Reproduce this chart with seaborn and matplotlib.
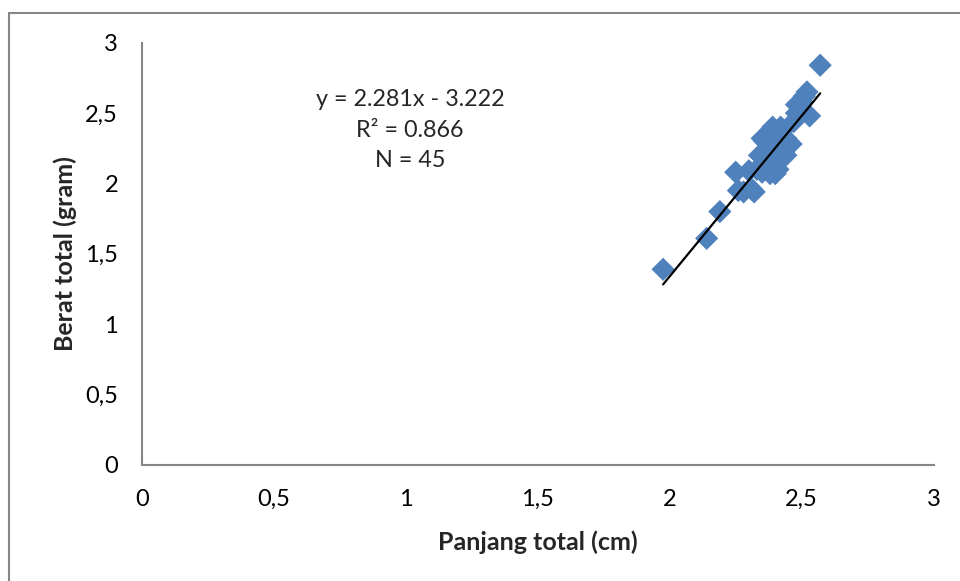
import matplotlib
matplotlib.use("Agg")
import matplotlib.pyplot as plt
from matplotlib.lines import Line2D
import seaborn as sns
import numpy as np
import pandas as pd

# Total length (cm) and total weight (gram) of the 45 sampled individuals
panjang_total = [1.975, 2.14, 2.19, 2.25, 2.26, 2.28, 2.30, 2.31, 2.32, 2.33,
                 2.34, 2.35, 2.35, 2.36, 2.36, 2.37, 2.37, 2.38, 2.38, 2.39,
                 2.39, 2.39, 2.40, 2.40, 2.40, 2.41, 2.41, 2.42, 2.42, 2.42,
                 2.43, 2.43, 2.44, 2.44, 2.45, 2.46, 2.47, 2.48, 2.48, 2.49,
                 2.50, 2.51, 2.52, 2.53, 2.57]
berat_total = [1.39, 1.61, 1.80, 2.08, 1.95, 1.94, 2.09, 1.96, 1.94, 2.10,
               2.20, 2.32, 2.08, 2.30, 2.15, 2.24, 2.10, 2.07, 2.20, 2.40,
               2.28, 2.12, 2.07, 2.35, 2.18, 2.25, 2.10, 2.40, 2.20, 2.30,
               2.38, 2.22, 2.32, 2.20, 2.29, 2.28, 2.44, 2.50, 2.56, 2.55,
               2.58, 2.62, 2.65, 2.48, 2.84]

# Linear trend line reported on the chart
slope = 2.281
intercept = -3.222
r_squared = 0.866
n_sampel = 45

x_ticks = [0, 0.5, 1, 1.5, 2, 2.5, 3]
y_ticks = [0, 0.5, 1, 1.5, 2, 2.5, 3]
tick_labels = ["0", "0,5", "1", "1,5", "2", "2,5", "3"]

df = pd.DataFrame({"Panjang total (cm)": panjang_total,
                   "Berat total (gram)": berat_total})

sns.set_theme(style="white")
plt.rcParams["font.family"] = ["Lato", "DejaVu Sans"]

fig = plt.figure(figsize=(9.6, 5.81), dpi=100)
ax = fig.add_axes([0.1476, 0.1997, 0.825, 0.7268])

blue = "#4F81BD"
sns.scatterplot(data=df, x="Panjang total (cm)", y="Berat total (gram)",
                marker="D", s=140, color=blue, edgecolor="none",
                linewidth=0, ax=ax, zorder=3)

# trend line across the range of the observed lengths
xs = np.array([min(panjang_total), max(panjang_total)])
ax.plot(xs, slope * xs + intercept, color="black", lw=1.6, zorder=4)

ax.set_xlim(0, 3)
ax.set_ylim(0, 3)
ax.set_xticks(x_ticks)
ax.set_yticks(y_ticks)
ax.set_xticklabels(tick_labels)
ax.set_yticklabels(tick_labels)

grey = "#868686"
for side in ["top", "right"]:
    ax.spines[side].set_visible(False)
for side in ["left", "bottom"]:
    ax.spines[side].set_color(grey)
    ax.spines[side].set_linewidth(1.5)
ax.tick_params(axis="both", direction="out", length=6, width=1.3,
               color=grey, labelsize=17, labelcolor="black")
ax.tick_params(axis="x", pad=11)
ax.tick_params(axis="y", pad=11)

ax.set_xlabel("Panjang total (cm)", fontsize=18, fontweight="bold", labelpad=15)
ax.set_ylabel("Berat total (gram)", fontsize=18, fontweight="bold", labelpad=6)

eq_text = (f"y = {slope:.3f}x - {abs(intercept):.3f}\n"
           f"R² = {r_squared:.3f}\nN = {n_sampel}")
ax.text(1.016, 2.379, eq_text, ha="center", va="center", fontsize=16.8,
        linespacing=1.55)

# chart area border
fig.add_artist(Line2D([9 / 960, 1], [1 - 13 / 581, 1 - 13 / 581],
                      transform=fig.transFigure, color=grey, lw=1.5))
fig.add_artist(Line2D([9 / 960, 9 / 960], [0, 1 - 13 / 581],
                      transform=fig.transFigure, color=grey, lw=1.5))

fig.savefig("out.png", dpi=100)
